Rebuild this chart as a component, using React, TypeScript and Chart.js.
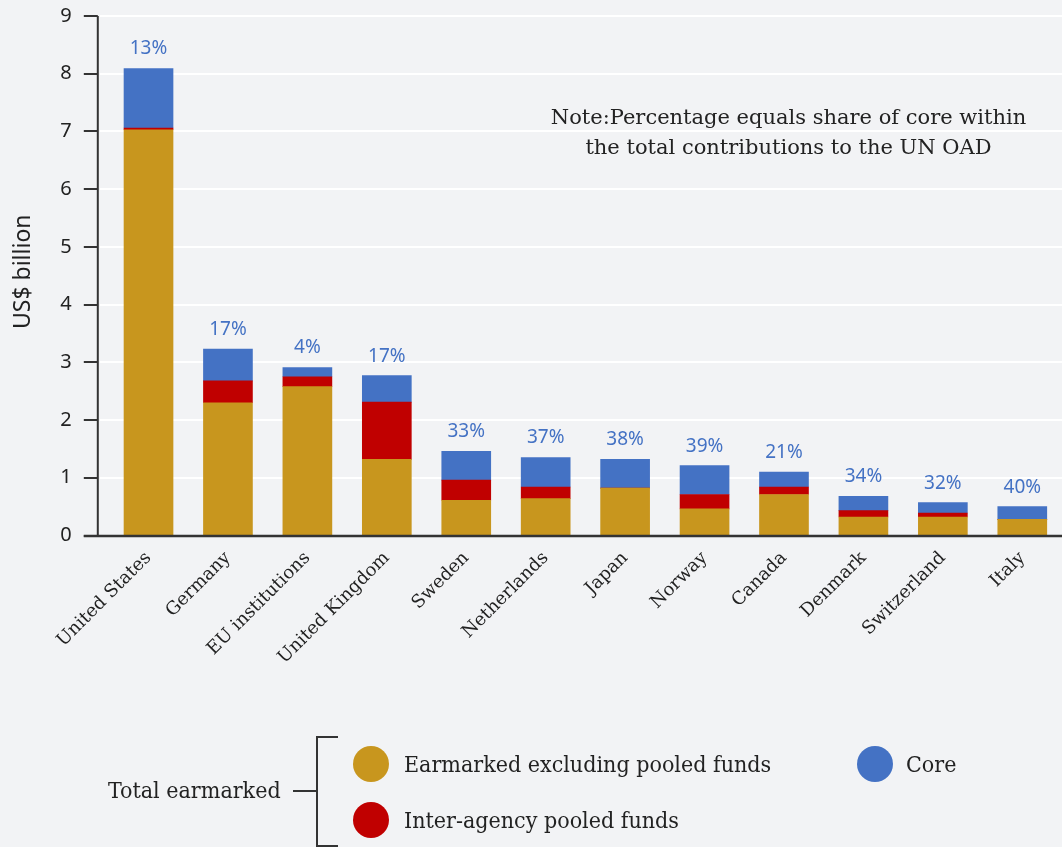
import React, { useEffect, useRef } from "react";
import { Chart, registerables } from "chart.js";

Chart.register(...registerables);

const categories = [
  "United States",
  "Germany",
  "EU institutions",
  "United Kingdom",
  "Sweden",
  "Netherlands",
  "Japan",
  "Norway",
  "Canada",
  "Denmark",
  "Switzerland",
  "Italy",
];
const earmarkedExclPooled = [7.03, 2.3, 2.58, 1.32, 0.61, 0.64, 0.82, 0.46, 0.71, 0.32, 0.32, 0.28];
const interAgencyPooled = [0.03, 0.38, 0.17, 0.99, 0.35, 0.2, 0.0, 0.25, 0.13, 0.11, 0.07, 0.0];
const core = [1.03, 0.55, 0.16, 0.46, 0.5, 0.51, 0.5, 0.5, 0.26, 0.25, 0.18, 0.22];
const coreShareLabels = ["13%", "17%", "4%", "17%", "33%", "37%", "38%", "39%", "21%", "34%", "32%", "40%"];
const yMin = 0;
const yMax = 9;

const GOLD = "#c8961e";
const RED = "#c00000";
const BLUE = "#4472c4";
const AXIS = "#333333";
const TEXT = "#222222";
const BG = "#f2f3f5";

const customPlugin = {
  id: "customAxes",
  beforeDatasetsDraw(chart: any) {
    const { ctx, chartArea, scales } = chart;
    const y = scales.y;
    const axisX = chartArea.left - 11;
    ctx.save();
    ctx.strokeStyle = "#ffffff";
    ctx.lineWidth = 2;
    y.ticks.forEach((t: any) => {
      if (t.value === yMin) return;
      const py = Math.round(y.getPixelForValue(t.value));
      ctx.beginPath();
      ctx.moveTo(axisX + 2, py);
      ctx.lineTo(chartArea.right, py);
      ctx.stroke();
    });
    ctx.restore();
  },
  afterDatasetsDraw(chart: any) {
    const { ctx, chartArea, scales } = chart;
    const y = scales.y;
    const x = scales.x;
    const axisX = chartArea.left - 11;
    ctx.save();
    ctx.strokeStyle = AXIS;
    ctx.lineWidth = 2;
    const y0 = Math.round(y.getPixelForValue(yMin));
    const yTop = Math.round(y.getPixelForValue(yMax));
    ctx.beginPath();
    ctx.moveTo(axisX, yTop);
    ctx.lineTo(axisX, y0);
    ctx.stroke();
    y.ticks.forEach((t: any) => {
      const py = Math.round(y.getPixelForValue(t.value));
      ctx.beginPath();
      ctx.moveTo(axisX - 14, py);
      ctx.lineTo(axisX, py);
      ctx.stroke();
    });
    ctx.lineWidth = 2.5;
    ctx.beginPath();
    ctx.moveTo(axisX - 14, y0);
    ctx.lineTo(chartArea.right, y0);
    ctx.stroke();

    // percentage labels
    ctx.fillStyle = BLUE;
    ctx.font = "19px 'Noto Sans'";
    ctx.textAlign = "center";
    ctx.textBaseline = "bottom";
    categories.forEach((_, i) => {
      const total = earmarkedExclPooled[i] + interAgencyPooled[i] + core[i];
      const px = x.getPixelForValue(i);
      const py = y.getPixelForValue(total);
      ctx.fillText(coreShareLabels[i], px, py - 10);
    });

    // y title
    ctx.fillStyle = TEXT;
    ctx.font = "23px 'Noto Sans'";
    ctx.translate(23, (chartArea.top + chartArea.bottom) / 2 - 4);
    ctx.rotate(-Math.PI / 2);
    ctx.textAlign = "center";
    ctx.textBaseline = "middle";
    ctx.fillText("US$ billion", 0, 0);
    ctx.restore();
  },
};

function ChartCanvas() {
  const ref = useRef<HTMLCanvasElement | null>(null);
  useEffect(() => {
    if (!ref.current) return;
    const chart = new Chart(ref.current, {
      type: "bar",
      data: {
        labels: categories,
        datasets: [
          { label: "Earmarked excluding pooled funds", data: earmarkedExclPooled, backgroundColor: GOLD },
          { label: "Inter-agency pooled funds", data: interAgencyPooled, backgroundColor: RED },
          { label: "Core", data: core, backgroundColor: BLUE },
        ],
      },
      options: {
        animation: false,
        responsive: false,
        devicePixelRatio: 1,
        layout: { padding: { top: 0, right: 0, bottom: 0, left: 0 } },
        datasets: { bar: { barThickness: 49 } },
        plugins: {
          legend: { display: false },
          tooltip: { enabled: false },
          title: { display: false },
        },
        scales: {
          x: {
            stacked: true,
            grid: { display: false, drawTicks: false },
            border: { display: false },
            ticks: {
              color: TEXT,
              font: { family: "'DejaVu Serif'", size: 18 },
              minRotation: 45,
              maxRotation: 45,
              padding: 12,
              autoSkip: false,
            },
            afterFit: (s: any) => {
              s.height = 847 - 535.5;
            },
          },
          y: {
            stacked: true,
            min: yMin,
            max: yMax,
            grid: { display: false, drawTicks: true, tickLength: 33 },
            border: { display: false },
            ticks: {
              stepSize: 1,
              color: TEXT,
              font: { family: "'Noto Sans'", size: 20 },
              padding: 4,
            },
            afterFit: (s: any) => {
              s.width = 108.8;
            },
          },
        },
      },
      plugins: [customPlugin],
    });
    return () => chart.destroy();
  }, []);
  return <canvas ref={ref} width={1062} height={847} style={{ position: "absolute", left: 0, top: 0 }} />;
}

const legendText: React.CSSProperties = {
  position: "absolute",
  height: 30,
  lineHeight: "30px",
  fontFamily: "'DejaVu Serif Condensed', 'DejaVu Serif', serif",
  fontSize: 23,
  color: TEXT,
  whiteSpace: "nowrap",
};

const dot = (color: string, cx: number, cy: number): React.CSSProperties => ({
  position: "absolute",
  left: cx - 18,
  top: cy - 18,
  width: 36,
  height: 36,
  borderRadius: "50%",
  background: color,
});

export default function App() {
  useEffect(() => {
    document.body.style.margin = "0";
  }, []);
  return (
    <div style={{ position: "fixed", left: 0, top: 0, width: 1062, height: 847, background: BG, overflow: "hidden" }}>
      <ChartCanvas />
      <div
        style={{
          position: "absolute",
          left: 788.5 - 280,
          width: 560,
          top: 102,
          textAlign: "center",
          lineHeight: "30px",
          fontFamily: "'DejaVu Serif', serif",
          fontSize: 21,
          color: TEXT,
        }}
      >
        Note:Percentage equals share of core within
        <br />
        the total contributions to the UN OAD
      </div>

      <div style={{ ...legendText, left: 108, top: 790 - 15 }}>Total earmarked</div>
      <div style={{ position: "absolute", left: 293, top: 790, width: 24, height: 2, background: AXIS }} />
      <div
        style={{
          position: "absolute",
          left: 316,
          top: 736,
          width: 20,
          height: 107,
          borderTop: `2px solid ${AXIS}`,
          borderBottom: `2px solid ${AXIS}`,
          borderLeft: `2px solid ${AXIS}`,
        }}
      />
      <div style={dot(GOLD, 370.5, 764)} />
      <div style={{ ...legendText, left: 404, top: 764 - 15 }}>Earmarked excluding pooled funds</div>
      <div style={dot(RED, 370.5, 820)} />
      <div style={{ ...legendText, left: 404, top: 820 - 15 }}>Inter-agency pooled funds</div>
      <div style={dot(BLUE, 875, 764)} />
      <div style={{ ...legendText, left: 906, top: 764 - 15 }}>Core</div>
    </div>
  );
}
